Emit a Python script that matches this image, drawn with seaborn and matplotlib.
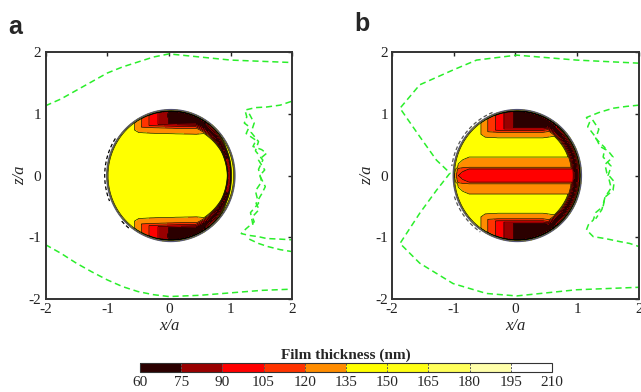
import numpy as np
import matplotlib.pyplot as plt
import seaborn as sns

# colour levels (nm) and MATLAB-like "hot" bands
levels = [60, 75, 90, 105, 120, 135, 150, 165, 180, 195, 210]
band_colors = ['#2b0000', '#990000', '#ff0000', '#ff3300', '#ff8c00',
               '#ffff00', '#ffff14', '#ffff5a', '#ffffaa', '#ffffff']
tick_vals = [-2, -1, 0, 1, 2]

# disc outline (centre x, half width, half height)
disk_cx, disk_rx, disk_rz = 0.03, 1.04, 1.07

base_thickness = 143

# top / bottom thin bands (disc-normalised coords): lower edge and minimum thickness
band_x = [-0.62, -0.5, -0.3, -0.1, 0.1, 0.4, 0.7, 0.95]
band_edge_a = [0.72, 0.65, 0.64, 0.635, 0.63, 0.625, 0.65, 0.6]
band_min_a = [143, 125, 100, 80, 64, 62, 62, 62]
band_edge_b = [0.66, 0.58, 0.57, 0.57, 0.57, 0.57, 0.61, 0.6]
band_min_b = [143, 125, 100, 78, 63, 62, 62, 62]
# thickness vs height above the band edge
band_h = [-0.02, 0.0, 0.085, 0.115, 0.135, 0.155, 0.2]
band_t = [145, 135, 120, 105, 90, 75, 62]

# dark crescent along the right rim
cres_r = 0.91
cres_theta = [0, 25, 45, 65, 90, 110]
cres_min_a = [85, 70, 62, 62, 62, 143]
cres_w_a = [0.035, 0.05, 0.09, 0.12, 0.1, 0.02]
cres_min_b = [62, 62, 62, 62, 62, 143]
cres_w_b = [0.08, 0.08, 0.09, 0.11, 0.1, 0.02]
cres_d = [0.0, 0.4, 0.8, 1.0]
cres_t = [55, 80, 120, 145]

# central band (panel b only): thickness across the band, rise towards its left end
core_d = [0.0, 0.05, 0.1, 0.125, 0.28, 0.32]
core_t = [95, 100, 105, 120, 135, 145]
core_end_x = [-1.0, -0.98, -0.95, -0.92, -0.85, -0.75]
core_end_rise = [60, 40, 25, 10, 4, 0]

# thicker rim ring at the edge of the disc
rim_r = [0.96, 0.978, 1.0]
rim_t = [0, 152, 172]

# green dashed contours, panel a
a_top_x = [-2, -1.75, -1.5, -1.25, -1, -0.75, -0.5, -0.25, 0, 0.5, 1, 1.5, 2]
a_top_z = [1.13, 1.24, 1.38, 1.52, 1.66, 1.76, 1.84, 1.92, 1.97, 1.92, 1.87, 1.85, 1.83]
a_bot_x = [-2, -1.75, -1.5, -1.25, -1, -0.75, -0.5, -0.25, 0, 0.5, 1, 1.5, 2]
a_bot_z = [-1.12, -1.26, -1.42, -1.56, -1.69, -1.8, -1.88, -1.93, -1.96, -1.94, -1.9, -1.86, -1.84]
a_right_x = [1.98, 1.8, 1.58, 1.4, 1.23, 1.26, 1.22, 1.3, 1.25, 1.41, 1.36, 1.5, 1.58, 1.45,
             1.55, 1.47, 1.56, 1.5, 1.41, 1.46, 1.35, 1.38, 1.25, 1.17, 1.3, 1.45, 1.58, 1.8, 1.98]
a_right_z = [1.2, 1.14, 1.11, 1.1, 1.06, 0.95, 0.85, 0.79, 0.68, 0.57, 0.47, 0.42, 0.36, 0.25,
             0.09, 0.0, -0.18, -0.3, -0.45, -0.55, -0.67, -0.75, -0.86, -0.94, -0.97, -0.99, -1.02, -1.03, -1.04]
a_right2_x = [1.3, 1.45, 1.6, 1.8, 1.98]
a_right2_z = [-1.03, -1.1, -1.15, -1.2, -1.23]
a_right3_x = [1.3, 1.38, 1.33, 1.45, 1.4, 1.52, 1.45, 1.5, 1.4, 1.45, 1.32, 1.36]
a_right3_z = [1.0, 0.85, 0.7, 0.55, 0.4, 0.25, 0.1, -0.1, -0.25, -0.45, -0.6, -0.8]

# green dashed contours, panel b
b_out_x = [2, 0.99, 0.02, -0.63, -1.01, -1.55, -1.87, -1.55, -1.28, -1.06,
           -1.28, -1.55, -1.87, -1.55, -1.01, -0.47, 0.02, 0.99, 2]
b_out_z = [1.82, 1.87, 1.95, 1.87, 1.71, 1.47, 1.09, 0.63, 0.25, 0.04,
           -0.24, -0.61, -1.1, -1.42, -1.75, -1.91, -1.95, -1.85, -1.81]
b_right_x = [2.0, 1.8, 1.58, 1.35, 1.15, 1.2, 1.17, 1.3, 1.37, 1.5, 1.58, 1.45, 1.48, 1.6,
             1.58, 1.45, 1.42, 1.3, 1.26, 1.18, 1.15, 1.26, 1.45, 1.69, 1.85, 2.0]
b_right_z = [1.14, 1.12, 1.09, 1.02, 0.94, 0.86, 0.79, 0.62, 0.47, 0.4, 0.3, 0.18, 0.04, -0.1,
             -0.24, -0.35, -0.5, -0.6, -0.72, -0.8, -0.88, -0.99, -1.02, -1.07, -1.1, -1.15]
b_right2_x = [1.25, 1.35, 1.3, 1.45, 1.42, 1.55, 1.5, 1.55, 1.45, 1.4, 1.3]
b_right2_z = [0.9, 0.75, 0.6, 0.45, 0.3, 0.15, 0.0, -0.2, -0.35, -0.55, -0.7]

# dashed arcs just outside the disc (degrees)
arc_a = [[147, 202], [222, 232]]
arc_b = [[112, 172], [198, 236]]


def film_field(X, Z, edge, bmin, cmin, cw, core):
    # work in disc-normalised coordinates
    U = (X - disk_cx) / disk_rx
    V = Z / disk_rz
    R = np.hypot(U, V)
    th = np.degrees(np.abs(np.arctan2(V, U)))
    T = np.full(X.shape, float(base_thickness))
    e = np.interp(U, band_x, edge)
    m = np.interp(U, band_x, bmin)
    for s in (1, -1):
        h = s * V - e
        T = np.minimum(T, np.maximum(m, np.interp(h, band_h, band_t)))
    cm = np.interp(th, cres_theta, cmin)
    w = np.interp(th, cres_theta, cw)
    dc = np.abs(R - cres_r) / w
    T = np.minimum(T, np.maximum(cm, np.interp(dc, cres_d, cres_t)))
    if core:
        tc = np.interp(np.abs(V), core_d, core_t) + np.interp(U, core_end_x, core_end_rise)
        T = np.minimum(T, tc)
    T = np.maximum(T, np.interp(R, rim_r, rim_t))
    return np.ma.masked_where(R > 1.0, T), R


sns.set_style('white')
plt.rcParams['font.family'] = ['Liberation Serif', 'DejaVu Serif']
plt.rcParams['axes.unicode_minus'] = False

fig = plt.figure(figsize=(6.41, 3.92), dpi=100)
ax_a = fig.add_axes([0.0702, 0.2372, 0.3869, 0.630])
ax_b = fig.add_axes([0.6115, 0.2372, 0.3853, 0.630])
cax = fig.add_axes([0.2184, 0.051, 0.6427, 0.023])

gx = np.linspace(-1.1, 1.15, 801)
gz = np.linspace(-1.12, 1.12, 801)
X, Z = np.meshgrid(gx, gz)
green = '#2bee2b'

panels = [
    (ax_a, band_edge_a, band_min_a, cres_min_a, cres_w_a, False, arc_a, 'k',
     [(a_top_x, a_top_z), (a_bot_x, a_bot_z), (a_right_x, a_right_z),
      (a_right2_x, a_right2_z), (a_right3_x, a_right3_z)]),
    (ax_b, band_edge_b, band_min_b, cres_min_b, cres_w_b, True, arc_b, '#555555',
     [(b_out_x, b_out_z), (b_right_x, b_right_z), (b_right2_x, b_right2_z)]),
]

for ax, edge, bmin, cmin, cw, core, arcs, arc_col, curves in panels:
    T, R = film_field(X, Z, edge, bmin, cmin, cw, core)
    cf = ax.contourf(X, Z, T, levels=levels, colors=band_colors)
    ax.contour(X, Z, T, levels=levels[1:-1], colors='k', linewidths=0.45)
    ax.contour(X, Z, R, levels=[1.0], colors='#555577', linewidths=0.8)
    for a0, a1 in arcs:
        t = np.radians(np.linspace(a0, a1, 40))
        ax.plot(disk_cx + 1.03 * disk_rx * np.cos(t), 1.03 * disk_rz * np.sin(t),
                color=arc_col, lw=0.9, ls=(0, (3, 2)))
    for cx, cz in curves:
        sns.lineplot(x=cx, y=cz, sort=False, estimator=None, color=green,
                     lw=1.1, linestyle=(0, (4, 2.5)), ax=ax)
    ax.set_xlim(-2, 2)
    ax.set_ylim(-2, 2)
    ax.set_aspect('equal')
    ax.set_xticks(tick_vals)
    ax.set_yticks(tick_vals)
    ax.tick_params(direction='in', length=3, width=1, top=True, right=True,
                   labelsize=11, pad=3, colors='#222222')
    for sp in ax.spines.values():
        sp.set_linewidth(1.4)
        sp.set_color('#333333')
    ax.set_xlabel('x/a', style='italic', fontsize=12, labelpad=1)
    ax.set_ylabel('z/a', style='italic', fontsize=12, labelpad=0)

fig.text(0.023, 0.93, 'a', fontsize=18, fontweight='bold', family='Liberation Sans',
         ha='center', va='center')
fig.text(0.565, 0.94, 'b', fontsize=18, fontweight='bold', family='Liberation Sans',
         ha='center', va='center')

cb = fig.colorbar(cf, cax=cax, orientation='horizontal', ticks=levels, drawedges=True)
cb.outline.set_linewidth(0.8)
cb.outline.set_color('#333333')
cb.dividers.set_linestyle((0, (2, 1.5)))
cb.dividers.set_color('#555555')
cb.dividers.set_linewidth(0.7)
cax.tick_params(length=0, labelsize=11, pad=3)
cax.set_title('Film thickness (nm)', fontsize=11, fontweight='bold', pad=3)

fig.savefig('out.png', dpi=100)
